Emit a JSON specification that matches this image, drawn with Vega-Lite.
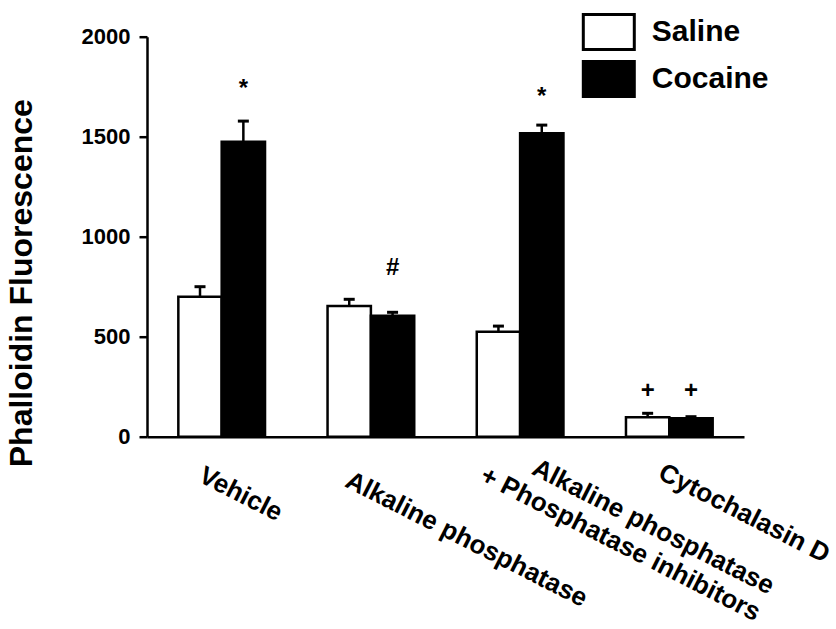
{
  "$schema": "https://vega.github.io/schema/vega-lite/v6.json",
  "width": 597,
  "height": 400,
  "autosize": {"type": "none"},
  "padding": {"left": 147, "top": 36.7, "right": 92, "bottom": 192.3},
  "config": {"view": {"stroke": null}, "font": "Liberation Sans"},
  "data": {
    "values": [
      {"treatment": "Vehicle", "group": "Saline", "mean": 700, "upper": 750, "mark": null, "markY": null},
      {"treatment": "Vehicle", "group": "Cocaine", "mean": 1475, "upper": 1578, "mark": "*", "markY": 1740},
      {"treatment": "Alkaline phosphatase", "group": "Saline", "mean": 653, "upper": 687, "mark": null, "markY": null},
      {"treatment": "Alkaline phosphatase", "group": "Cocaine", "mean": 605, "upper": 622, "mark": "#", "markY": 843},
      {"treatment": "Alkaline phosphatase|+ Phosphatase inhibitors", "group": "Saline", "mean": 525, "upper": 553, "mark": null, "markY": null},
      {"treatment": "Alkaline phosphatase|+ Phosphatase inhibitors", "group": "Cocaine", "mean": 1517, "upper": 1558, "mark": "*", "markY": 1700},
      {"treatment": "Cytochalasin D", "group": "Saline", "mean": 97, "upper": 117, "mark": "+", "markY": 230},
      {"treatment": "Cytochalasin D", "group": "Cocaine", "mean": 92, "upper": 100, "mark": "+", "markY": 230}
    ]
  },
  "encoding": {
    "x": {
      "field": "treatment",
      "type": "nominal",
      "sort": ["Vehicle", "Alkaline phosphatase", "Alkaline phosphatase|+ Phosphatase inhibitors", "Cytochalasin D"],
      "scale": {"paddingInner": 0.419, "paddingOuter": 0.21},
      "axis": {
        "title": null,
        "domainColor": "black",
        "domainWidth": 2.5,
        "ticks": false,
        "tickSize": 0,
        "labelFontSize": 26,
        "labelFontWeight": "bold",
        "labelColor": "black",
        "labelAngle": 27,
        "labelOverlap": false,
        "labelLimit": 1000,
        "labelFlush": false,
        "labelBound": false,
        "labelLineHeight": 30,
        "labelExpr": "split(datum.label, '|')",
        "labelBaseline": "top",
        "labelAlign": {
          "condition": {"test": "datum.value === 'Alkaline phosphatase|+ Phosphatase inhibitors'", "value": "right"},
          "value": "left"
        },
        "labelOffset": {
          "condition": [
            {"test": "datum.value === 'Vehicle'", "value": -15},
            {"test": "datum.value === 'Alkaline phosphatase'", "value": -17.6},
            {"test": "datum.value === 'Alkaline phosphatase|+ Phosphatase inhibitors'", "value": 258}
          ],
          "value": -3
        },
        "labelPadding": {
          "condition": [
            {"test": "datum.value === 'Vehicle'", "value": 25},
            {"test": "datum.value === 'Alkaline phosphatase'", "value": 30},
            {"test": "datum.value === 'Alkaline phosphatase|+ Phosphatase inhibitors'", "value": 139}
          ],
          "value": 22
        }
      }
    },
    "xOffset": {
      "field": "group",
      "type": "nominal",
      "sort": ["Saline", "Cocaine"],
      "scale": {"paddingInner": 0, "paddingOuter": 0}
    }
  },
  "layer": [
    {
      "mark": {"type": "bar", "stroke": "black", "strokeWidth": 2.5},
      "encoding": {
        "y": {
          "field": "mean",
          "type": "quantitative",
          "scale": {"domain": [0, 2000]},
          "axis": {
            "title": "Phalloidin Fluorescence",
            "values": [0, 500, 1000, 1500, 2000],
            "format": "d",
            "grid": false,
            "labelFontSize": 22,
            "labelFontWeight": "bold",
            "labelColor": "black",
            "labelPadding": 9,
            "labelFlush": false,
            "tickSize": 8,
            "tickWidth": 2.5,
            "tickColor": "black",
            "domainColor": "black",
            "domainWidth": 2.5,
            "titleFontSize": 32,
            "titleFontWeight": "bold",
            "titleColor": "black",
            "titleX": -126,
            "titleY": 246,
            "titleAngle": -90,
            "titleAlign": "center",
            "titleBaseline": "middle"
          }
        },
        "fill": {
          "field": "group",
          "type": "nominal",
          "scale": {"domain": ["Saline", "Cocaine"], "range": ["white", "black"]},
          "legend": {
            "orient": "none",
            "legendX": 442.8,
            "legendY": -23.7,
            "title": null,
            "padding": 0,
            "symbolType": "M-1.457,-1H1.457V1H-1.457Z",
            "symbolSize": 1225,
            "symbolStrokeColor": "black",
            "symbolStrokeWidth": 3,
            "labelFontSize": 30,
            "labelFontWeight": "bold",
            "labelColor": "black",
            "labelOffset": 24,
            "labelLimit": 300,
            "rowPadding": -1
          }
        }
      }
    },
    {
      "mark": {"type": "rule", "strokeWidth": 2.5, "color": "black"},
      "encoding": {
        "y": {"field": "mean", "type": "quantitative"},
        "y2": {"field": "upper"}
      }
    },
    {
      "mark": {"type": "tick", "color": "black", "thickness": 3, "size": 11, "opacity": 1},
      "encoding": {
        "y": {"field": "upper", "type": "quantitative"}
      }
    },
    {
      "transform": [{"filter": "datum.mark != null"}],
      "mark": {"type": "text", "fontSize": 24, "fontWeight": "bold", "baseline": "middle", "color": "black"},
      "encoding": {
        "y": {"field": "markY", "type": "quantitative"},
        "text": {"field": "mark"}
      }
    }
  ]
}
